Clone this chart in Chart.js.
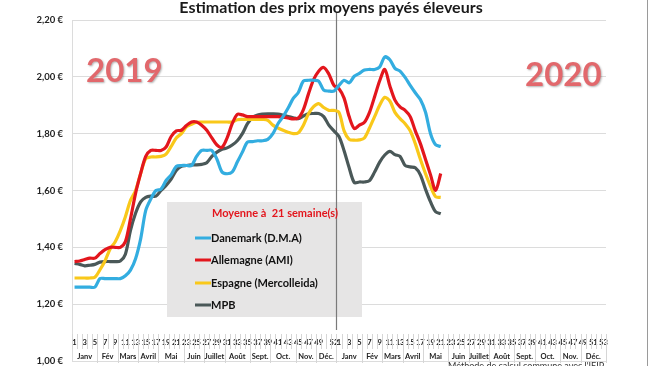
<!DOCTYPE html>
<html><head><meta charset="utf-8">
<script src="https://cdn.jsdelivr.net/npm/chart.js@4"></script>
<style>html,body{margin:0;padding:0;background:#fff;} #wrap{width:650px;height:366px;position:relative;}</style>
</head><body><div id="wrap"><canvas id="c" width="650" height="366"></canvas></div>
<script>
const weeks2019 = [1,2,3,4,5,6,7,8,9,10,11,12,13,14,15,16,17,18,19,20,21,22,23,24,25,26,27,28,29,30,31,32,33,34,35,36,37,38,39,40,41,42,43,44,45,46,47,48,49,50,51,52];
const weeks2020 = [1,2,3,4,5,6,7,8,9,10,11,12,13,14,15,16,17,18,19,20,21,22,23,24,25,26,27,28,29,30,31,32,33,34,35,36,37,38,39,40,41,42,43,44,45,46,47,48,49,50,51,52,53];
const monthNames = ['Janv','Fév','Mars','Avril','Mai','Juin','Juillet','Août','Sept.','Oct.','Nov.','Déc.'];
const monthFirstWeek = [1,6,10,14,18,23,27,31,36,40,45,49];
const yTicks = [1.0,1.2,1.4,1.6,1.8,2.0,2.2];

const danemark2019 = [1.26,1.26,1.26,1.26,1.26,1.29,1.29,1.29,1.29,1.29,1.30,1.32,1.36,1.43,1.53,1.57,1.60,1.605,1.635,1.655,1.685,1.688,1.688,1.688,1.72,1.741,1.741,1.741,1.71,1.665,1.659,1.665,1.70,1.735,1.77,1.772,1.775,1.775,1.78,1.80,1.835,1.86,1.89,1.924,1.945,1.985,1.988,1.988,1.985,1.953,1.95,1.95];
const danemark2020 = [1.97,1.988,1.979,2.002,2.012,2.024,2.026,2.026,2.035,2.07,2.06,2.03,2.02,1.998,1.97,1.944,1.92,1.876,1.80,1.761,1.755];
const allemagne2019 = [1.35,1.352,1.357,1.362,1.362,1.378,1.392,1.40,1.40,1.40,1.42,1.50,1.59,1.66,1.72,1.741,1.741,1.741,1.753,1.79,1.81,1.812,1.829,1.841,1.841,1.83,1.812,1.785,1.76,1.752,1.785,1.835,1.868,1.866,1.86,1.86,1.86,1.86,1.86,1.86,1.86,1.858,1.855,1.852,1.855,1.885,1.94,1.99,2.02,2.033,2.01,1.97];
const allemagne2020 = [1.958,1.925,1.86,1.818,1.83,1.84,1.875,1.93,1.986,2.026,1.968,1.918,1.894,1.882,1.86,1.81,1.765,1.71,1.655,1.60,1.66];
const espagne2019 = [1.292,1.292,1.292,1.292,1.295,1.321,1.353,1.394,1.42,1.459,1.508,1.565,1.60,1.66,1.712,1.718,1.718,1.72,1.728,1.755,1.785,1.80,1.824,1.833,1.84,1.841,1.841,1.841,1.841,1.841,1.841,1.841,1.849,1.85,1.85,1.85,1.85,1.85,1.847,1.83,1.82,1.812,1.805,1.80,1.803,1.83,1.87,1.895,1.906,1.892,1.882,1.882];
const espagne2020 = [1.875,1.81,1.78,1.777,1.778,1.785,1.82,1.86,1.90,1.928,1.915,1.875,1.853,1.835,1.81,1.765,1.71,1.66,1.615,1.578,1.576];
const mpb2019 = [1.343,1.34,1.335,1.337,1.34,1.348,1.35,1.35,1.35,1.352,1.376,1.46,1.52,1.56,1.576,1.58,1.58,1.60,1.618,1.64,1.67,1.685,1.688,1.69,1.69,1.692,1.698,1.72,1.735,1.745,1.75,1.76,1.775,1.80,1.835,1.857,1.866,1.869,1.87,1.87,1.869,1.865,1.86,1.856,1.853,1.862,1.87,1.871,1.871,1.86,1.83,1.81];
const mpb2020 = [1.79,1.74,1.68,1.628,1.63,1.63,1.635,1.665,1.70,1.725,1.738,1.726,1.72,1.688,1.683,1.68,1.655,1.605,1.56,1.525,1.518];

const seriesNames = ['Danemark (D.M.A)','Allemagne (AMI)','Espagne (Mercolleida)','MPB'];
const seriesColors = ['#33ade0','#e3161d','#f9c81a','#4a5858'];
const titleText = 'Estimation des prix moyens payés éleveurs';
const legendTitle = 'Moyenne à  21 semaine(s)';
const footerText = "Méthode de calcul commune avec l'IFIP";
const yearLabels = ['2019','2020'];

const FONT = 'Lato, "Open Sans", sans-serif';
const labels = weeks2019.map(w => '2019-' + w).concat(weeks2020.map(w => '2020-' + w));
const n2019 = weeks2019.length;

const seriesData = [
  danemark2019.concat(danemark2020),
  allemagne2019.concat(allemagne2020),
  espagne2019.concat(espagne2020),
  mpb2019.concat(mpb2020)
];

const decor = {
  id: 'decor',
  beforeDatasetsDraw(chart) {
    const ctx = chart.ctx, x = chart.scales.x;
    ctx.save();
    ctx.fillStyle = '#e6e5e5';
    ctx.fillRect(167, 202, 195, 115);
    const sx = (x.getPixelForValue(n2019 - 1) + x.getPixelForValue(n2019)) / 2;
    ctx.strokeStyle = '#7a7a7a'; ctx.lineWidth = 1.2;
    ctx.beginPath(); ctx.moveTo(Math.round(sx) + 0.5, 13); ctx.lineTo(Math.round(sx) + 0.5, 330); ctx.stroke();
    ctx.font = 'bold 11px ' + FONT;
    ctx.textBaseline = 'middle'; ctx.textAlign = 'left';
    ctx.fillStyle = '#e3161d';
    ctx.fillText(legendTitle, 212, 213);
    const rows = [238, 260, 283, 305];
    seriesNames.forEach((nm, i) => {
      ctx.strokeStyle = seriesColors[i]; ctx.lineWidth = 3;
      ctx.beginPath(); ctx.moveTo(195, rows[i]); ctx.lineTo(211, rows[i]); ctx.stroke();
      ctx.fillStyle = '#111';
      ctx.fillText(nm, 211, rows[i]);
    });
    ctx.restore();
  },
  afterDraw(chart) {
    const ctx = chart.ctx, x = chart.scales.x;
    ctx.save();
    ctx.font = 'bold 16px ' + FONT;
    ctx.fillStyle = '#1a1a1a'; ctx.textAlign = 'center'; ctx.textBaseline = 'middle';
    ctx.fillText(titleText, 331, 8);
    ctx.font = 'bold 33px ' + FONT;
    ctx.textAlign = 'left';
    ctx.shadowColor = 'rgba(0,0,0,0.3)'; ctx.shadowOffsetX = 1; ctx.shadowOffsetY = 1; ctx.shadowBlur = 2;
    ctx.fillStyle = '#e2686c';
    ctx.fillText(yearLabels[0], 86, 71);
    ctx.fillText(yearLabels[1], 525, 75);
    ctx.shadowColor = 'transparent';
    const step = x.getPixelForValue(1) - x.getPixelForValue(0);
    ctx.strokeStyle = '#d6d6d6'; ctx.lineWidth = 1;
    for (let i = 0; i <= labels.length; i++) {
      const px = Math.round(x.getPixelForValue(0) - step / 2 + i * step) + 0.5;
      ctx.beginPath(); ctx.moveTo(px, 334); ctx.lineTo(px, 349); ctx.stroke();
    }
    ctx.font = 'bold 7.5px ' + FONT;
    ctx.fillStyle = '#222'; ctx.textAlign = 'center'; ctx.textBaseline = 'middle';
    const yearsWeeks = [weeks2019, weeks2020];
    let offset = 0;
    yearsWeeks.forEach(wks => {
      const last = wks[wks.length - 1];
      monthFirstWeek.forEach((fw, m) => {
        const lw = m < 11 ? monthFirstWeek[m + 1] - 1 : last;
        const a = x.getPixelForValue(offset + fw - 1), b = x.getPixelForValue(offset + lw - 1);
        ctx.fillText(monthNames[m], (a + b) / 2, 357);
        const ex = Math.round(b + step / 2) + 0.5;
        ctx.beginPath(); ctx.moveTo(ex, 334); ctx.lineTo(ex, 363); ctx.stroke();
      });
      offset += wks.length;
    });
    ctx.font = '9px ' + FONT;
    ctx.textAlign = 'left'; ctx.textBaseline = 'top'; ctx.fillStyle = '#333';
    ctx.fillText(footerText, 448, 362);
    ctx.strokeStyle = '#9a9a9a';
    ctx.beginPath(); ctx.moveTo(647.5, 0); ctx.lineTo(647.5, 366); ctx.stroke();
    ctx.restore();
  }
};

new Chart(document.getElementById('c'), {
  type: 'line',
  data: {
    labels: labels,
    datasets: seriesNames.map((nm, i) => ({
      label: nm, data: seriesData[i], borderColor: seriesColors[i], backgroundColor: seriesColors[i],
      borderWidth: 3.2, pointRadius: 0, tension: 0.3, fill: false
    }))
  },
  options: {
    responsive: false, animation: false, devicePixelRatio: 1,
    layout: { padding: { top: 20, bottom: 5, left: 0, right: 44 } },
    plugins: { legend: { display: false }, title: { display: false }, tooltip: { enabled: false } },
    scales: {
      y: {
        min: 1.0, max: 2.2,
        afterFit(s) { s.width = 72; s.paddingTop = 0; s.paddingBottom = 0; },
        afterBuildTicks(s) { s.ticks = yTicks.map(v => ({ value: v })); },
        grid: { color: '#dcdcdc', drawTicks: true, tickLength: 6, tickColor: 'rgba(0,0,0,0)' },
        border: { color: '#dcdcdc' },
        ticks: { padding: 3, color: '#222', font: { family: FONT, size: 9.5, weight: 'bold' },
          callback: v => v.toFixed(2).replace('.', ',') + ' €' }
      },
      x: {
        type: 'category', offset: true,
        position: { y: 1.1 },
        afterFit(s) { s.height = 0; },
        grid: { display: false, drawTicks: false },
        border: { display: false },
        ticks: {
          autoSkip: false, maxRotation: 0, minRotation: 0, padding: 5, color: '#222',
          font: { family: FONT, size: 7.5, weight: 'bold' },
          callback: function (v, idx) {
            if (idx < n2019) {
              const wk = weeks2019[idx];
              return ((wk % 2 === 1 && wk !== 51) || wk === 52) ? String(wk) : '';
            }
            const wk = weeks2020[idx - n2019];
            return wk % 2 === 1 ? String(wk) : '';
          }
        }
      }
    }
  },
  plugins: [decor]
});
</script></body></html>
